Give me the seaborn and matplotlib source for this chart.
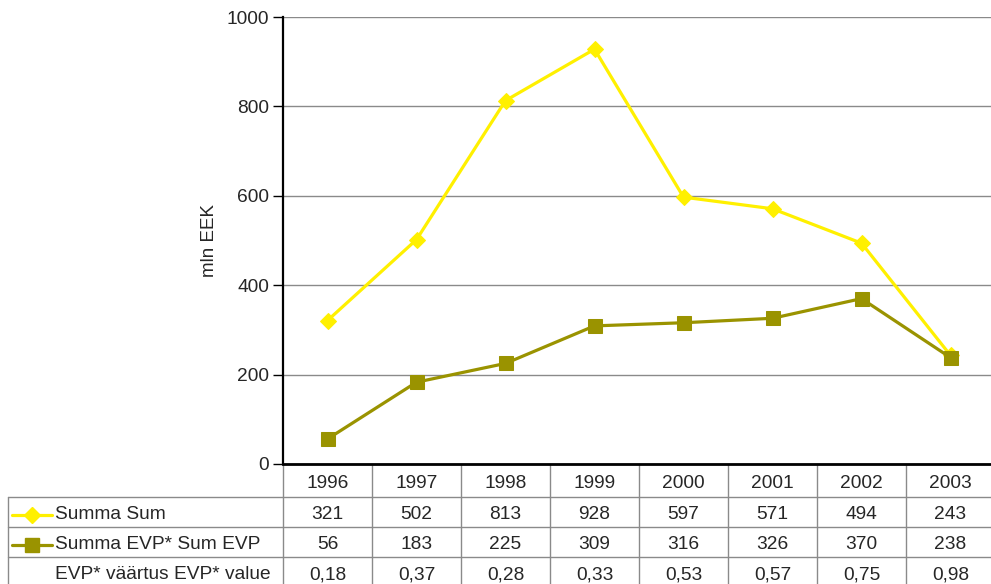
import numpy as np
import pandas as pd
import matplotlib
matplotlib.use('Agg')
import matplotlib.pyplot as plt
import matplotlib.transforms as mtransforms
import seaborn as sns

# Andmed
years = ['1996', '1997', '1998', '1999', '2000', '2001', '2002', '2003']
summa = [321, 502, 813, 928, 597, 571, 494, 243]
summa_evp = [56, 183, 225, 309, 316, 326, 370, 238]
evp_vaartus = ['0,18', '0,37', '0,28', '0,33', '0,53', '0,57', '0,75', '0,98']
row_labels = ['Summa Sum', 'Summa EVP* Sum EVP', 'EVP* väärtus EVP* value']

yellow = '#FFF000'
olive = '#9A9300'
grid_col = '#8a8a8a'
fs = 13.8

sns.set_style('white')
plt.rcParams['font.family'] = ['Liberation Sans', 'DejaVu Sans']

fig = plt.figure(figsize=(9.91, 5.84), dpi=100)
ax = fig.add_axes([283 / 991, 120 / 584, 712 / 991, 447 / 584])

df = pd.DataFrame({'x': np.arange(len(years)), 'summa': summa, 'evp': summa_evp})
sns.lineplot(data=df, x='x', y='summa', color=yellow, marker='D', markersize=8.5,
             markeredgecolor=yellow, linewidth=2.3, ax=ax, zorder=3)
sns.lineplot(data=df, x='x', y='evp', color=olive, marker='s', markersize=10,
             markeredgecolor=olive, linewidth=2.3, ax=ax, zorder=4)

ax.set_xlim(-0.5, len(years) - 0.5)
ax.set_ylim(0, 1000)
ax.set_yticks(np.arange(0, 1001, 200))
ax.set_xticks([])
ax.set_xlabel('')
ax.set_ylabel('mln EEK', fontsize=13.5, labelpad=6)
ax.tick_params(axis='y', labelsize=fs, length=7, width=1, pad=3, direction='out',
               left=True, color='black')
ax.yaxis.grid(True, color=grid_col, linewidth=1)
ax.set_axisbelow(True)
for s in ['top', 'right']:
    ax.spines[s].set_visible(False)
ax.spines['left'].set_color('black')
ax.spines['left'].set_linewidth(1.6)
ax.spines['bottom'].set_color('black')
ax.spines['bottom'].set_linewidth(2)

# Andmetabel
trans = mtransforms.blended_transform_factory(ax.transData, ax.transAxes)
row_edges = [0, -0.0738, -0.141, -0.208, -0.275]
lab_left = -0.386

for xv in np.arange(-0.5, len(years), 1.0):
    ax.plot([xv, xv], [row_edges[0], row_edges[-1]], transform=trans,
            color=grid_col, linewidth=1, clip_on=False)
ax.plot([lab_left, lab_left], [row_edges[1], row_edges[-1]], transform=ax.transAxes,
        color=grid_col, linewidth=1, clip_on=False)
for yv in row_edges[1:4]:
    ax.plot([lab_left, 1.0], [yv, yv], transform=ax.transAxes,
            color=grid_col, linewidth=1, clip_on=False)

def mid(i):
    return (row_edges[i] + row_edges[i + 1]) / 2 - 0.006

for i, yr in enumerate(years):
    ax.text(i, mid(0), yr, transform=trans, ha='center', va='center', fontsize=fs)

rows = [[str(v) for v in summa], [str(v) for v in summa_evp], evp_vaartus]
for r, vals in enumerate(rows):
    for i, v in enumerate(vals):
        ax.text(i, mid(r + 1), v, transform=trans, ha='center', va='center', fontsize=fs)
    ax.text(-0.320, mid(r + 1), row_labels[r], transform=ax.transAxes,
            ha='left', va='center', fontsize=fs)

# legendi märgid tabelis
ax.plot([-0.381, -0.324], [mid(1), mid(1)], transform=ax.transAxes, color=yellow,
        linewidth=2.3, clip_on=False)
ax.plot([-0.3525], [mid(1)], transform=ax.transAxes, color=yellow, marker='D',
        markersize=8.5, clip_on=False)
ax.plot([-0.381, -0.324], [mid(2), mid(2)], transform=ax.transAxes, color=olive,
        linewidth=2.3, clip_on=False)
ax.plot([-0.3525], [mid(2)], transform=ax.transAxes, color=olive, marker='s',
        markersize=10, clip_on=False)

fig.savefig('out.png', dpi=100)
